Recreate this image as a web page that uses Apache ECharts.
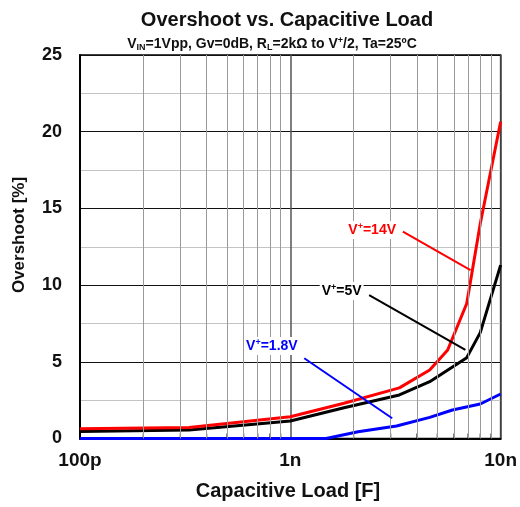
<!DOCTYPE html>
<html>
<head>
<meta charset="utf-8">
<script src="https://cdn.jsdelivr.net/npm/echarts@6/dist/echarts.min.js"></script>
<style>html,body{margin:0;padding:0;background:#fff;}#c{width:520px;height:507px;}</style>
</head>
<body>
<div id="c"></div>
<script>
// ---- data ----
const redX   = [1e-10, 3.3e-10, 1e-9, 1.8e-9, 3.3e-9, 4.6e-9, 5.6e-9, 6.9e-9, 8e-9, 1e-8];
const redY   = [0.63, 0.72, 1.42, 2.3, 3.3, 4.47, 5.77, 8.8, 14.0, 20.65];
const blackX = [1e-10, 3.3e-10, 1e-9, 1.8e-9, 3.3e-9, 4.6e-9, 6.9e-9, 8e-9, 1e-8];
const blackY = [0.45, 0.55, 1.14, 2.0, 2.84, 3.7, 5.27, 6.9, 11.3];
const blueX  = [1e-10, 1.48e-9, 2.1e-9, 3.2e-9, 4.6e-9, 5.9e-9, 8e-9, 1e-8];
const blueY  = [0, 0, 0.44, 0.81, 1.38, 1.86, 2.25, 2.9];
const minorX = [2e-10,3e-10,4e-10,5e-10,6e-10,7e-10,8e-10,9e-10,2e-9,3e-9,4e-9,5e-9,6e-9,7e-9,8e-9,9e-9];
const xTickLabels = {'-10':'100p','-9':'1n','-8':'10n'};
const yMin = 0, yMax = 25;
// annotation anchors (data coords)
const redLabelPos   = [2.45e-9, 13.6];
const blackLabelPos = [1.754e-9, 9.62];
const blueLabelPos  = [8.17e-10, 6.03];
const redArrow   = [[3.43e-9, 13.48], [7.19e-9, 10.98]];
const blackArrow = [[2.37e-9, 9.35], [6.80e-9, 5.77]];
const blueArrow  = [[1.165e-9, 5.23], [3.05e-9, 1.32]];

const FF = '"Liberation Sans", Arial, Helvetica, sans-serif';
const zip = (xs, ys) => xs.map((x, i) => [x, ys[i]]);

function labelPoint(pos, color, num) {
  return {
    symbol: 'circle', symbolSize: 1, silent: true,
    itemStyle: {color: 'rgba(0,0,0,0)'},
    data: [{coord: pos}],
    label: {
      show: true, position: 'inside',
      formatter: '{a|V}{s|+}{a|=' + num + '}',
      backgroundColor: '#fff', padding: [1, 2],
      rich: {
        a: {fontFamily: FF, fontWeight: 'bold', fontSize: 14, color: color, lineHeight: 16},
        s: {fontFamily: FF, fontWeight: 'bold', fontSize: 9, color: color, verticalAlign: 'top', lineHeight: 16}
      }
    }
  };
}
function arrow(seg, color) {
  return {
    silent: true, symbol: ['none', 'arrow'], symbolSize: [0, 9],
    label: {show: false},
    lineStyle: {color: color, width: 2, type: 'solid'},
    data: [[{coord: seg[0]}, {coord: seg[1]}]]
  };
}

const chart = echarts.init(document.getElementById('c'), null, {renderer: 'canvas'});
chart.setOption({
  animation: false,
  backgroundColor: '#fff',
  grid: {left: 80, right: 18, top: 55, bottom: 68.5, show: true, borderColor: '#000', borderWidth: 1.5},
  xAxis: {
    type: 'log', logBase: 10, min: 1e-10, max: 1e-8,
    axisLine: {show: true, lineStyle: {color: '#000', width: 2}},
    axisTick: {show: false},
    axisLabel: {
      fontFamily: FF, fontWeight: 'bold', fontSize: 19, color: '#111', margin: 13,
      formatter: v => xTickLabels[String(Math.round(Math.log10(v)))] || ''
    },
    splitLine: {show: true, lineStyle: {color: '#555', width: 1.5}}
  },
  yAxis: {
    type: 'value', min: yMin, max: yMax, interval: 5,
    axisLine: {show: true, lineStyle: {color: '#000', width: 2}},
    axisTick: {show: false},
    minorTick: {show: false, splitNumber: 2},
    minorSplitLine: {show: true, lineStyle: {color: '#c4c4c4', width: 1}},
    axisLabel: {fontFamily: FF, fontWeight: 'bold', fontSize: 18, color: '#111', margin: 18},
    splitLine: {show: true, lineStyle: {color: '#111', width: 1}}
  },
  graphic: [
    {type: 'text', x: 287, y: 20, style: {text: 'Overshoot vs. Capacitive Load', font: 'bold 20px ' + FF, fill: '#111', textAlign: 'center', textVerticalAlign: 'middle'}},
    {type: 'text', x: 272, y: 44, style: {
      text: '{b|V}{sub|IN}{b|=1Vpp, Gv=0dB, R}{sub|L}{b|=2kΩ to V}{sup|+}{b|/2, Ta=25ºC}',
      textAlign: 'center', textVerticalAlign: 'middle',
      rich: {
        b: {font: 'bold 14px ' + FF, fill: '#111', lineHeight: 16},
        sub: {font: 'bold 9px ' + FF, fill: '#111', verticalAlign: 'bottom', lineHeight: 16},
        sup: {font: 'bold 9px ' + FF, fill: '#111', verticalAlign: 'top', lineHeight: 16}
      }
    }},
    {type: 'text', x: 288, y: 491, style: {text: 'Capacitive Load [F]', font: 'bold 20px ' + FF, fill: '#111', textAlign: 'center', textVerticalAlign: 'middle'}},
    {type: 'text', x: 19, y: 235, rotation: Math.PI / 2, style: {text: 'Overshoot [%]', font: 'bold 17px ' + FF, fill: '#111', textAlign: 'center', textVerticalAlign: 'middle'}}
  ],
  series: [
    {
      name: 'minor', type: 'scatter', z: 1, silent: true, clip: false,
      symbol: 'rect', symbolSize: [1.2, 5], symbolOffset: [0, -2.5],
      itemStyle: {color: '#000'},
      data: minorX.map(v => [v, 0]),
      markLine: {
        silent: true, symbol: 'none', label: {show: false},
        lineStyle: {color: '#9a9a9a', width: 1, type: 'solid'},
        data: minorX.map(v => [{coord: [v, yMin]}, {coord: [v, yMax]}])
      }
    },
    {
      name: 'V+=1.8V', type: 'line', clip: false, showSymbol: false, symbol: 'none', z: 3,
      lineStyle: {color: '#0000ff', width: 3}, itemStyle: {color: '#0000ff'},
      data: zip(blueX, blueY),
      markLine: arrow(blueArrow, '#0000ff'),
      markPoint: labelPoint(blueLabelPos, '#0000ff', '1.8V')
    },
    {
      name: 'V+=5V', type: 'line', clip: false, showSymbol: false, symbol: 'none', z: 3,
      lineStyle: {color: '#000000', width: 3}, itemStyle: {color: '#000000'},
      data: zip(blackX, blackY),
      markLine: arrow(blackArrow, '#000000'),
      markPoint: labelPoint(blackLabelPos, '#000000', '5V')
    },
    {
      name: 'V+=14V', type: 'line', clip: false, showSymbol: false, symbol: 'none', z: 4,
      lineStyle: {color: '#ff0000', width: 3}, itemStyle: {color: '#ff0000'},
      data: zip(redX, redY),
      markLine: arrow(redArrow, '#ff0000'),
      markPoint: labelPoint(redLabelPos, '#ff0000', '14V')
    }
  ]
});
</script>
</body>
</html>
